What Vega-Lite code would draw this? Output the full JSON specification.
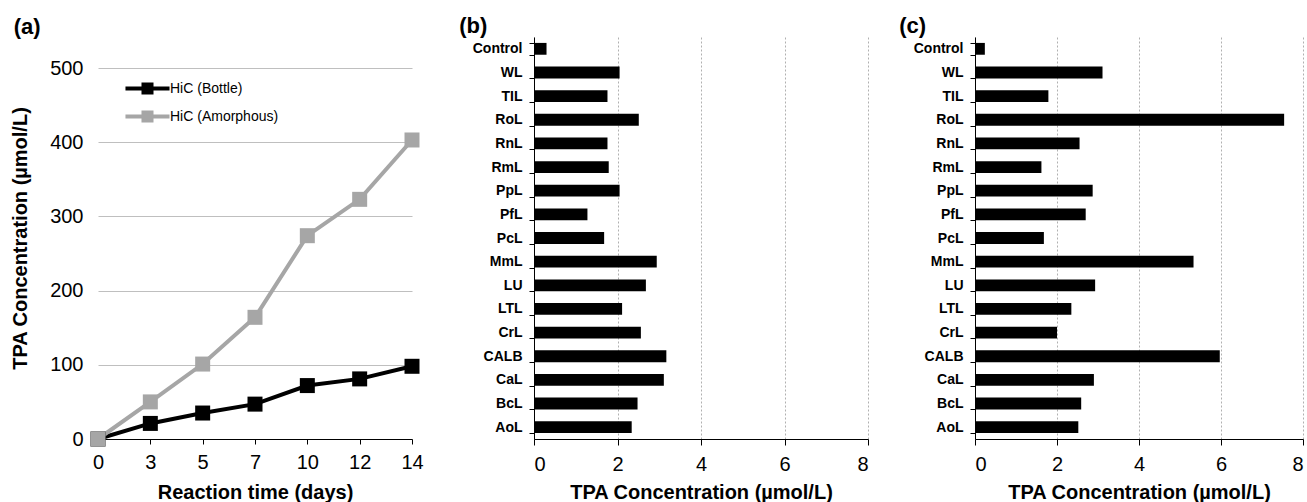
{
  "$schema": "https://vega.github.io/schema/vega-lite/v6.json",
  "padding": {"left": 10, "top": 15, "right": 0, "bottom": 0},
  "background": "white",
  "config": {
    "font": "Liberation Sans",
    "view": {"stroke": null},
    "axis": {
      "labelColor": "#000000",
      "titleColor": "#000000",
      "labelFont": "Liberation Sans",
      "titleFont": "Liberation Sans",
      "domainColor": "#000000",
      "tickColor": "#000000",
      "labelFontSize": 20,
      "titleFontSize": 20,
      "titleFontWeight": "bold"
    },
    "title": {"anchor": "start", "frame": "bounds", "fontSize": 22, "fontWeight": "bold", "color": "#000000", "font": "Liberation Sans", "offset": -8}
  },
  "datasets": {
    "growth": [
      {"day": 0, "series": "HiC (Bottle)", "tpa": 0},
      {"day": 3, "series": "HiC (Bottle)", "tpa": 21},
      {"day": 5, "series": "HiC (Bottle)", "tpa": 35},
      {"day": 7, "series": "HiC (Bottle)", "tpa": 47},
      {"day": 10, "series": "HiC (Bottle)", "tpa": 72},
      {"day": 12, "series": "HiC (Bottle)", "tpa": 81},
      {"day": 14, "series": "HiC (Bottle)", "tpa": 98},
      {"day": 0, "series": "HiC (Amorphous)", "tpa": 0},
      {"day": 3, "series": "HiC (Amorphous)", "tpa": 50},
      {"day": 5, "series": "HiC (Amorphous)", "tpa": 101},
      {"day": 7, "series": "HiC (Amorphous)", "tpa": 164},
      {"day": 10, "series": "HiC (Amorphous)", "tpa": 274},
      {"day": 12, "series": "HiC (Amorphous)", "tpa": 323},
      {"day": 14, "series": "HiC (Amorphous)", "tpa": 403}
    ],
    "conc_b": [
      {"enzyme": "Control", "tpa": 0.3},
      {"enzyme": "WL", "tpa": 2.05},
      {"enzyme": "TIL", "tpa": 1.76},
      {"enzyme": "RoL", "tpa": 2.51},
      {"enzyme": "RnL", "tpa": 1.76},
      {"enzyme": "RmL", "tpa": 1.79},
      {"enzyme": "PpL", "tpa": 2.05},
      {"enzyme": "PfL", "tpa": 1.28},
      {"enzyme": "PcL", "tpa": 1.68},
      {"enzyme": "MmL", "tpa": 2.94},
      {"enzyme": "LU", "tpa": 2.68},
      {"enzyme": "LTL", "tpa": 2.11},
      {"enzyme": "CrL", "tpa": 2.56},
      {"enzyme": "CALB", "tpa": 3.17},
      {"enzyme": "CaL", "tpa": 3.11},
      {"enzyme": "BcL", "tpa": 2.48},
      {"enzyme": "AoL", "tpa": 2.34}
    ],
    "conc_c": [
      {"enzyme": "Control", "tpa": 0.24},
      {"enzyme": "WL", "tpa": 3.11},
      {"enzyme": "TIL", "tpa": 1.79},
      {"enzyme": "RoL", "tpa": 7.54},
      {"enzyme": "RnL", "tpa": 2.55},
      {"enzyme": "RmL", "tpa": 1.62},
      {"enzyme": "PpL", "tpa": 2.87},
      {"enzyme": "PfL", "tpa": 2.7},
      {"enzyme": "PcL", "tpa": 1.68},
      {"enzyme": "MmL", "tpa": 5.33},
      {"enzyme": "LU", "tpa": 2.93},
      {"enzyme": "LTL", "tpa": 2.35},
      {"enzyme": "CrL", "tpa": 2.0},
      {"enzyme": "CALB", "tpa": 5.97},
      {"enzyme": "CaL", "tpa": 2.9},
      {"enzyme": "BcL", "tpa": 2.59},
      {"enzyme": "AoL", "tpa": 2.52}
    ]
  },
  "spacing": 35,
  "hconcat": [
    {
      "title": {"text": "(a)", "dx": 3, "offset": -2},
      "width": 314,
      "height": 402,
      "data": {"name": "growth"},
      "encoding": {
        "x": {
          "field": "day",
          "type": "ordinal",
          "scale": {"type": "point", "padding": 0},
          "axis": {"title": "Reaction time (days)", "labelAngle": 0, "grid": false, "tickSize": 5, "labelPadding": 8, "titlePadding": 10}
        },
        "y": {
          "field": "tpa",
          "type": "quantitative",
          "scale": {"domain": [0, 541.8], "nice": false},
          "axis": {"title": "TPA Concentration (µmol/L)", "values": [0, 100, 200, 300, 400, 500], "grid": true, "gridColor": "#bfbfbf", "ticks": false, "domain": false, "labelPadding": 15, "titlePadding": 19}
        },
        "color": {
          "field": "series",
          "type": "nominal",
          "scale": {"domain": ["HiC (Bottle)", "HiC (Amorphous)"], "range": ["#000000", "#a6a6a6"]},
          "legend": {
            "title": null,
            "orient": "none",
            "legendX": 34,
            "legendY": 36,
            "padding": 0,
            "labelFontSize": 14,
            "labelColor": "#000000",
            "labelOffset": 7,
            "rowPadding": 0,
            "symbolType": "M-1.65,0H1.65M-0.3,-0.3H0.3V0.3H-0.3Z",
            "symbolSize": 713,
            "symbolStrokeWidth": 4,
            "encode": {
              "symbols": {
                "update": {
                  "fill": {"signal": "datum.value === 'HiC (Bottle)' ? '#000000' : '#a6a6a6'"},
                  "stroke": {"signal": "datum.value === 'HiC (Bottle)' ? '#000000' : '#a6a6a6'"},
                  "strokeWidth": {"value": 4},
                  "opacity": {"value": 1}
                }
              }
            }
          }
        }
      },
      "layer": [
        {
          "data": {"values": [{}]},
          "mark": {"type": "rule", "strokeWidth": 1},
          "encoding": {
            "x": {"datum": 0, "type": "ordinal"},
            "y": {"datum": 0, "type": "quantitative"},
            "y2": {"datum": 500},
            "color": {"value": "#7f7f7f"}
          }
        },
        {"mark": {"type": "line", "strokeWidth": 4}},
        {"mark": {"type": "point", "shape": "square", "filled": true, "size": 225, "opacity": 1}}
      ]
    },
    {
      "spacing": 30,
      "hconcat": [
        {
          "title": {"text": "(b)", "dx": -13},
          "width": 334,
          "height": 402,
          "data": {"name": "conc_b"},
          "mark": {"type": "bar", "color": "#000000"},
          "encoding": {
            "y": {
              "field": "enzyme",
              "type": "nominal",
              "sort": null,
              "scale": {"paddingInner": 0.5, "paddingOuter": 0.25},
              "axis": {"title": null, "labelFontSize": 14, "labelFontWeight": "bold", "tickBand": "extent", "tickSize": 5, "labelPadding": 7, "grid": false}
            },
            "x": {
              "field": "tpa",
              "type": "quantitative",
              "scale": {"domain": [0, 8]},
              "axis": {"title": "TPA Concentration (µmol/L)", "values": [0, 2, 4, 6, 8], "grid": true, "gridColor": "#b0b0b0", "gridDash": [2, 2], "tickSize": 6, "labelPadding": 9, "titlePadding": 8}
            }
          }
        },
        {
          "title": {"text": "(c)", "dx": -14},
          "width": 328,
          "height": 402,
          "data": {"name": "conc_c"},
          "mark": {"type": "bar", "color": "#000000"},
          "encoding": {
            "y": {
              "field": "enzyme",
              "type": "nominal",
              "sort": null,
              "scale": {"paddingInner": 0.5, "paddingOuter": 0.25},
              "axis": {"title": null, "labelFontSize": 14, "labelFontWeight": "bold", "tickBand": "extent", "tickSize": 5, "labelPadding": 7, "grid": false}
            },
            "x": {
              "field": "tpa",
              "type": "quantitative",
              "scale": {"domain": [0, 8]},
              "axis": {"title": "TPA Concentration (µmol/L)", "values": [0, 2, 4, 6, 8], "grid": true, "gridColor": "#b0b0b0", "gridDash": [2, 2], "tickSize": 6, "labelPadding": 9, "titlePadding": 8}
            }
          }
        }
      ]
    }
  ]
}
